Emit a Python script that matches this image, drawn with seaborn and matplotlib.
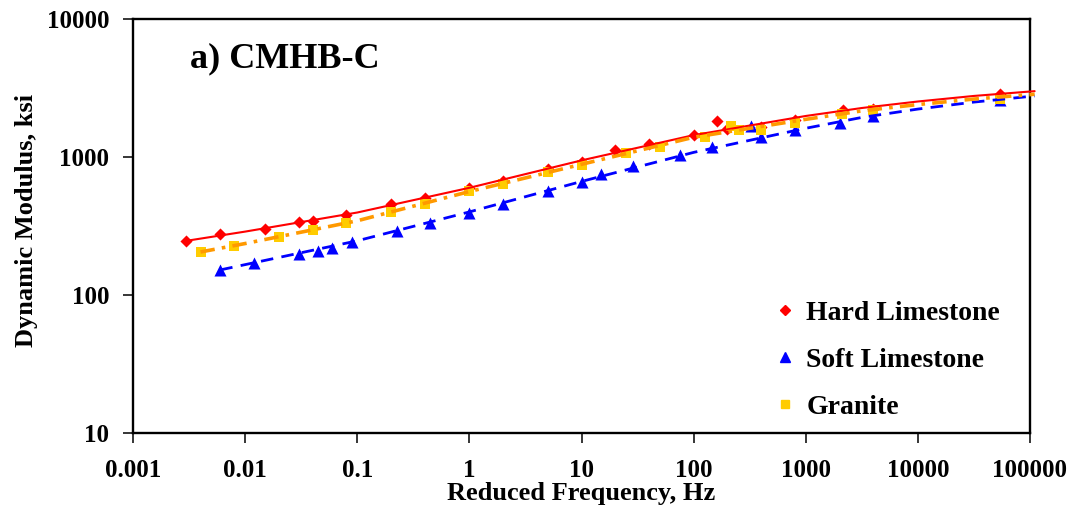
import matplotlib
matplotlib.use("Agg")
import matplotlib.pyplot as plt
from matplotlib.lines import Line2D
from matplotlib.ticker import FixedLocator, FixedFormatter, NullLocator
import pandas as pd
import seaborn as sns

# Measured dynamic modulus (ksi) against reduced frequency (Hz)
hard_freq = [0.003, 0.006, 0.015, 0.03, 0.04, 0.08, 0.2, 0.4, 1, 2, 5, 10, 20, 40,
             100, 160, 200, 400, 800, 2170, 4000, 53500]
hard_mod = [247, 275, 302, 338, 345, 382, 456, 505, 598, 670, 820, 915, 1124, 1242,
            1436, 1814, 1595, 1650, 1850, 2193, 2240, 2850]

soft_freq = [0.006, 0.012, 0.03, 0.045, 0.06, 0.09, 0.225, 0.45, 1, 2, 5, 10, 15, 29,
             75, 145, 324, 400, 800, 2000, 4000, 53500]
soft_mod = [152, 171, 197, 209, 220, 241, 291, 331, 395, 454, 567, 659, 753, 861,
            1034, 1188, 1678, 1403, 1570, 1773, 1983, 2600]

granite_freq = [0.004, 0.008, 0.02, 0.04, 0.08, 0.2, 0.4, 1, 2, 5, 10, 25, 50, 126,
                215, 256, 400, 800, 2100, 4000, 53500]
granite_mod = [204, 228, 264, 296, 331, 397, 456, 570, 637, 782, 875, 1075, 1188, 1389,
               1678, 1570, 1570, 1773, 2050, 2191, 2632]

# Fitted master curves
hard_fit_freq = [0.003, 0.01, 0.1, 1, 10, 100, 1000, 3162, 10000, 31623, 110000]
hard_fit_mod = [247, 288, 396, 598, 945, 1440, 1983, 2265, 2525, 2770, 3000]
soft_fit_freq = [0.006, 0.01, 0.1, 1, 10, 100, 1000, 3162, 10000, 31623, 110000]
soft_fit_mod = [152, 166, 247, 400, 665, 1080, 1615, 1935, 2225, 2500, 2770]
granite_fit_freq = [0.004, 0.01, 0.1, 1, 10, 100, 1000, 3162, 10000, 31623, 110000]
granite_fit_mod = [205, 236, 345, 562, 885, 1390, 1875, 2160, 2400, 2630, 2850]

series_names = ["Hard Limestone", "Soft Limestone", "Granite"]
x_ticks = [0.001, 0.01, 0.1, 1, 10, 100, 1000, 10000, 100000]
x_tick_labels = ["0.001", "0.01", "0.1", "1", "10", "100", "1000", "10000", "100000"]
y_ticks = [10, 100, 1000, 10000]
y_tick_labels = ["10", "100", "1000", "10000"]

sns.set_style("ticks")
plt.rcParams["font.family"] = ["Liberation Serif", "DejaVu Serif"]
plt.rcParams["font.weight"] = "bold"
plt.rcParams["text.color"] = "black"
plt.rcParams["axes.labelcolor"] = "black"
plt.rcParams["xtick.color"] = "black"
plt.rcParams["ytick.color"] = "black"

fig = plt.figure(figsize=(10.81, 5.14), dpi=100)
ax = fig.add_axes([133 / 1081, 1 - 433 / 514, 897 / 1081, 414 / 514])
ax.set_xscale("log")
ax.set_yscale("log")

RED, BLUE, GOLD, ORANGE = "#FF0000", "#0000FF", "#FFCC00", "#FF9900"

pts = pd.concat([
    pd.DataFrame({"freq": hard_freq, "mod": hard_mod, "agg": series_names[0]}),
    pd.DataFrame({"freq": soft_freq, "mod": soft_mod, "agg": series_names[1]}),
    pd.DataFrame({"freq": granite_freq, "mod": granite_mod, "agg": series_names[2]}),
])
marker_style = {series_names[0]: ("D", RED, 38), series_names[1]: ("^", BLUE, 75),
                series_names[2]: ("s", GOLD, 52)}
for name in series_names:
    m, c, s = marker_style[name]
    sns.scatterplot(data=pts[pts["agg"] == name], x="freq", y="mod", marker=m,
                    color=c, s=s, linewidth=0, ax=ax, zorder=3, legend=False)

fits = [
    (hard_fit_freq, hard_fit_mod, RED, 1.5, "-"),
    (soft_fit_freq, soft_fit_mod, BLUE, 2.0, (0, (4.5, 3))),
    (granite_fit_freq, granite_fit_mod, ORANGE, 2.6, (0, (4, 2, 1, 2))),
]
for fx, fy, c, lw, ls in fits:
    sns.lineplot(x=fx, y=fy, color=c, linewidth=lw, linestyle=ls, sort=False,
                 estimator=None, ax=ax, zorder=4, clip_on=False)

ax.set_xlim(0.001, 100000)
ax.set_ylim(10, 10000)
ax.xaxis.set_major_locator(FixedLocator(x_ticks))
ax.xaxis.set_major_formatter(FixedFormatter(x_tick_labels))
ax.yaxis.set_major_locator(FixedLocator(y_ticks))
ax.yaxis.set_major_formatter(FixedFormatter(y_tick_labels))
ax.xaxis.set_minor_locator(NullLocator())
ax.yaxis.set_minor_locator(NullLocator())

for sp in ax.spines.values():
    sp.set_visible(True)
    sp.set_linewidth(1.7)
    sp.set_color("black")
ax.tick_params(axis="x", direction="out", length=7, width=1.1, pad=12,
               labelsize=18, colors="black")
ax.tick_params(axis="y", direction="out", length=7, width=1.1, pad=10,
               labelsize=18, colors="black")
for lab in ax.get_xticklabels() + ax.get_yticklabels():
    lab.set_fontweight("bold")

ax.set_xlabel("Reduced Frequency, Hz", fontsize=19, fontweight="bold", va="top")
ax.set_ylabel("Dynamic Modulus, ksi", fontsize=19, fontweight="bold")
ax.xaxis.set_label_coords(0.5, -0.118)
ax.yaxis.set_label_coords(-0.106, 0.514)

ax.text(0.0636, 0.884, "a) CMHB-C", transform=ax.transAxes, fontsize=26,
        fontweight="bold", va="baseline", ha="left")

handles = [
    Line2D([], [], marker="D", color=RED, linestyle="None", markersize=5.2),
    Line2D([], [], marker="^", color=BLUE, linestyle="None", markersize=7),
    Line2D([], [], marker="s", color=GOLD, linestyle="None", markersize=6),
]
leg = ax.legend(handles, series_names, loc="upper left", bbox_to_anchor=(0.715, 0.321),
                frameon=False, borderpad=0, borderaxespad=0, handlelength=0.8,
                handletextpad=0.35, labelspacing=0.78,
                prop={"family": "Liberation Serif", "weight": "bold", "size": 20})

fig.savefig("out.png", dpi=100)
